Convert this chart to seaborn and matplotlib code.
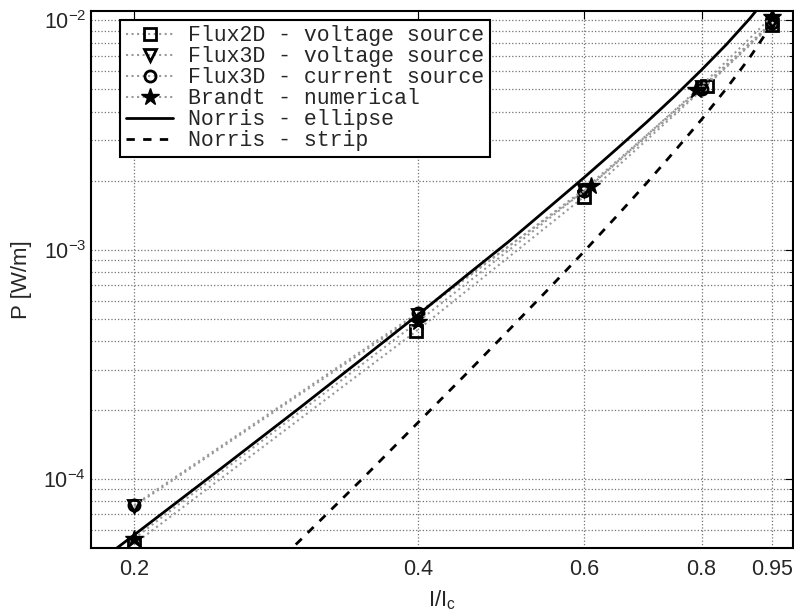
import numpy as np
import pandas as pd
import seaborn as sns
import matplotlib
matplotlib.use("Agg")
import matplotlib.pyplot as plt
from matplotlib.ticker import FixedLocator, NullLocator, FixedFormatter

# =========================
# DATA
# =========================

x_flux2d = [0.2, 0.398, 0.6, 0.81, 0.95]
p_flux2d = [5.2e-5, 4.4e-4, 1.70e-3, 5.2e-3, 9.6e-3]

x_flux3d_v = [0.2, 0.4, 0.6, 0.8, 0.95]
p_flux3d_v = [7.6e-5, 5.2e-4, 1.83e-3, 5.1e-3, 9.8e-3]

x_flux3d_c = [0.2, 0.4, 0.6, 0.8, 0.95]
p_flux3d_c = [7.7e-5, 5.3e-4, 1.80e-3, 5.0e-3, 9.7e-3]

x_brandt = [0.2, 0.4, 0.61, 0.79, 0.95]
p_brandt = [5.5e-5, 4.85e-4, 1.90e-3, 4.95e-3, 1.04e-2]

x_ellipse = [0.18, 0.2, 0.25, 0.3, 0.35, 0.4, 0.45, 0.5, 0.55, 0.6,
             0.65, 0.7, 0.75, 0.8, 0.85, 0.9, 0.95]
p_ellipse = [4.1e-5, 5.7e-5, 1.15e-4, 2.05e-4, 3.37e-4, 5.2e-4, 7.7e-4,
             1.09e-3, 1.52e-3, 2.06e-3, 2.75e-3, 3.61e-3, 4.70e-3,
             6.09e-3, 7.86e-3, 1.02e-2, 1.34e-2]

x_strip = [0.28, 0.3, 0.35, 0.4, 0.45, 0.5, 0.55, 0.6, 0.65, 0.7,
           0.75, 0.8, 0.85, 0.9, 0.95]
p_strip = [4.1e-5, 5.4e-5, 1.01e-4, 1.76e-4, 2.87e-4, 4.48e-4, 6.72e-4,
           9.8e-4, 1.40e-3, 1.96e-3, 2.71e-3, 3.70e-3, 5.05e-3,
           6.90e-3, 9.62e-3]

x_ticks = [0.2, 0.4, 0.6, 0.8, 0.95]
x_tick_labels = ["0.2", "0.4", "0.6", "0.8", "0.95"]

# =========================
# STYLE
# =========================

sns.set_style("white")
plt.rcParams['font.family'] = ['Liberation Sans', 'DejaVu Sans']
plt.rcParams['mathtext.default'] = 'regular'

fig = plt.figure(figsize=(7.94, 6.16), dpi=100)
ax = fig.add_axes([0.1146, 0.1104, 0.8841, 0.8718])
ax.set_xscale('log')
ax.set_yscale('log')

marker_kw = dict(color='0.6', linestyle=':', linewidth=1.5,
                 markeredgecolor='k', markersize=8, markeredgewidth=2)

sns.lineplot(x=x_flux2d, y=p_flux2d, ax=ax, marker='s',
             markerfacecolor='none', label="Flux2D - voltage source",
             **marker_kw)
sns.lineplot(x=x_flux3d_v, y=p_flux3d_v, ax=ax, marker='v',
             markerfacecolor='none', label="Flux3D - voltage source",
             **marker_kw)
sns.lineplot(x=x_flux3d_c, y=p_flux3d_c, ax=ax, marker='o',
             markerfacecolor='none', label="Flux3D - current source",
             **marker_kw)
sns.lineplot(x=x_brandt, y=p_brandt, ax=ax, marker='*',
             markerfacecolor='k', label="Brandt - numerical",
             **{**marker_kw, 'markersize': 13, 'markeredgewidth': 1})

sns.lineplot(x=x_ellipse, y=p_ellipse, ax=ax, color='k', linewidth=2,
             label="Norris - ellipse")
sns.lineplot(x=x_strip, y=p_strip, ax=ax, color='k', linewidth=2,
             linestyle=(0, (3, 3)), label="Norris - strip")

# =========================
# AXES
# =========================

ax.set_xlim(0.18, 1.0)
ax.set_ylim(5e-5, 1.1e-2)

ax.xaxis.set_major_locator(FixedLocator(x_ticks))
ax.xaxis.set_major_formatter(FixedFormatter(x_tick_labels))
ax.xaxis.set_minor_locator(NullLocator())

ax.tick_params(axis='both', which='both', direction='in', top=True,
               right=True, labelsize=15.5, color='k')
ax.tick_params(which='major', length=6)
ax.tick_params(which='minor', length=3)
ax.tick_params(axis='x', pad=8)

ax.grid(True, which='major', linestyle=':', color='0.45', linewidth=0.9)
ax.grid(True, which='minor', axis='y', linestyle=':', color='0.45',
        linewidth=0.9)

for s in ax.spines.values():
    s.set_color('k')
    s.set_linewidth(1.5)

ax.set_xlabel(r"$\mathregular{I/I_c}$", fontsize=16, labelpad=6)
ax.set_ylabel("P [W/m]", fontsize=16, labelpad=8)

leg = ax.legend(loc='upper left', bbox_to_anchor=(0.042, 0.983),
                frameon=True, fancybox=False, edgecolor='k',
                framealpha=1, borderaxespad=0, handlelength=2.2,
                handletextpad=0.7, labelspacing=0.0, borderpad=0.25,
                prop={'family': 'Liberation Mono', 'size': 15.5})
leg.get_frame().set_linewidth(1.5)

fig.savefig("out.png", dpi=100)
